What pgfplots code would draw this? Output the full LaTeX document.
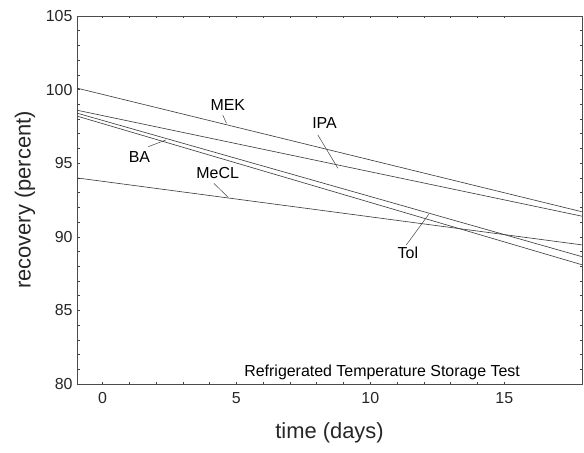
\documentclass[border=0pt]{standalone}
\usepackage{pgfplots}
\pgfplotsset{compat=1.18}
\usepackage{fontspec}
\setmainfont{Liberation Sans}
\usetikzlibrary{calc}
\begin{document}
\begin{tikzpicture}
\begin{axis}[
  name=ax,
  scale only axis,
  width=505bp, height=368bp,
  xmin=-0.95, xmax=17.9,
  ymin=80, ymax=105,
  xtick={0,5,10,15},
  ytick={80,85,90,95,100,105},
  minor x tick num=4,
  minor y tick num=4,
  tick align=inside,
  major tick length=2.5bp,
  minor tick length=2.5bp,
  every tick/.style={black!75, line width=0.6pt},
  axis line style={black!70, line width=0.9pt},
  /pgf/number format/assume math mode=true,
  ticklabel style={font=\fontsize{16}{18}\selectfont, text=black!85},
  xticklabel style={yshift=-5bp},
  yticklabel style={xshift=-1bp},
  xlabel={time (days)},
  ylabel={recovery (percent)},
  label style={font=\fontsize{22}{24}\selectfont, text=black!85},
  xlabel style={at={(axis description cs:0.5,0)}, anchor=center, yshift=-49bp},
  ylabel style={at={(axis description cs:0,0.5)}, anchor=center, yshift=52bp},
  clip=true,
]
\addplot[black!75, line width=0.65pt] coordinates {(-0.95,100.1) (17.9,91.7)};
\addplot[black!75, line width=0.65pt] coordinates {(-0.95,98.6) (17.9,91.4)};
\addplot[black!75, line width=0.65pt] coordinates {(-0.95,98.4) (17.9,88.65)};
\addplot[black!75, line width=0.65pt] coordinates {(-0.95,98.2) (17.9,88.1)};
\addplot[black!75, line width=0.65pt] coordinates {(-0.95,94.0) (17.9,89.45)};
\begin{scope}[every node/.style={font=\fontsize{16}{18}\selectfont, text=black}]
\node at (axis cs:4.68,98.95) {MEK};
\node at (axis cs:8.29,97.71) {IPA};
\node at (axis cs:1.38,95.44) {BA};
\node at (axis cs:4.30,94.31) {MeCL};
\node at (axis cs:11.4,88.88) {Tol};
\node at (axis cs:10.44,80.79) {Refrigerated Temperature Storage Test};
\end{scope}
\draw[black!75, line width=0.5pt] (axis cs:4.49,98.27) -- (axis cs:4.63,97.71);
\draw[black!75, line width=0.5pt] (axis cs:8.04,96.92) -- (axis cs:8.79,94.65);
\draw[black!75, line width=0.5pt] (axis cs:1.71,96.12) -- (axis cs:2.37,96.58);
\draw[black!75, line width=0.5pt] (axis cs:4.16,93.63) -- (axis cs:4.69,92.68);
\draw[black!75, line width=0.5pt] (axis cs:11.34,89.44) -- (axis cs:12.18,91.53);
\end{axis}
\pgfresetboundingbox
\path[use as bounding box] ($(ax.south west)+(-77bp,-69bp)$) rectangle ($(ax.north east)+(2bp,16bp)$);
\end{tikzpicture}
\end{document}
